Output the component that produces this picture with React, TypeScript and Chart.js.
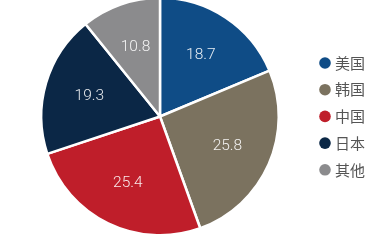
import React, { useEffect, useRef } from "react";
import { Chart, registerables } from "chart.js";

Chart.register(...registerables);

const categories = ["美国", "韩国", "中国", "日本", "其他"];
const shares = [18.7, 25.8, 25.4, 19.3, 10.8];
const colors = ["#0f4c86", "#7b725f", "#bf1e2a", "#0b2746", "#8b8b8d"];

const labelPlugin = {
  id: "sliceLabels",
  afterDatasetsDraw(chart: any) {
    const { ctx } = chart;
    const meta = chart.getDatasetMeta(0);
    ctx.save();
    ctx.font = "300 15.5px Roboto, 'Open Sans', sans-serif";
    ctx.fillStyle = "rgba(255,255,255,0.9)";
    ctx.textAlign = "center";
    ctx.textBaseline = "middle";
    meta.data.forEach((arc: any, i: number) => {
      const { x, y, startAngle, endAngle, outerRadius } = arc.getProps(
        ["x", "y", "startAngle", "endAngle", "outerRadius"],
        true
      );
      const mid = (startAngle + endAngle) / 2;
      const r = outerRadius * 0.62;
      ctx.fillText(String(shares[i]), x + Math.cos(mid) * r, y + Math.sin(mid) * r);
    });
    ctx.restore();
  },
};

const legendPlugin = {
  id: "customLegend",
  afterDraw(chart: any) {
    const { ctx } = chart;
    ctx.save();
    const x0 = 325;
    const y0 = 67;
    const step = 26.7;
    categories.forEach((c, i) => {
      const y = y0 + i * step;
      ctx.beginPath();
      ctx.fillStyle = colors[i];
      ctx.arc(x0, y, 5.8, 0, Math.PI * 2);
      ctx.fill();
      ctx.font = "15px 'Noto Sans CJK SC', sans-serif";
      ctx.fillStyle = "#555555";
      ctx.textAlign = "left";
      ctx.textBaseline = "middle";
      ctx.fillText(c, x0 + 10, y);
    });
    ctx.restore();
  },
};

export default function App() {
  const ref = useRef<HTMLCanvasElement>(null);
  useEffect(() => {
    if (!ref.current) return;
    const chart = new Chart(ref.current, {
      type: "pie",
      data: {
        labels: categories,
        datasets: [
          {
            data: shares,
            backgroundColor: colors,
            borderColor: "#ffffff",
            borderWidth: 2.5,
          },
        ],
      },
      options: {
        animation: false,
        responsive: false,
        layout: { padding: { left: 40, right: 106, top: 0, bottom: 3 } },
        plugins: {
          legend: { display: false },
          tooltip: { enabled: false },
        },
      },
      plugins: [labelPlugin, legendPlugin],
    });
    return () => chart.destroy();
  }, []);
  return (
    <div style={{ position: "fixed", left: 0, top: -4, width: 386, height: 244, background: "#fff" }}>
      <canvas ref={ref} width={386} height={244} style={{ width: 386, height: 244 }} />
    </div>
  );
}
